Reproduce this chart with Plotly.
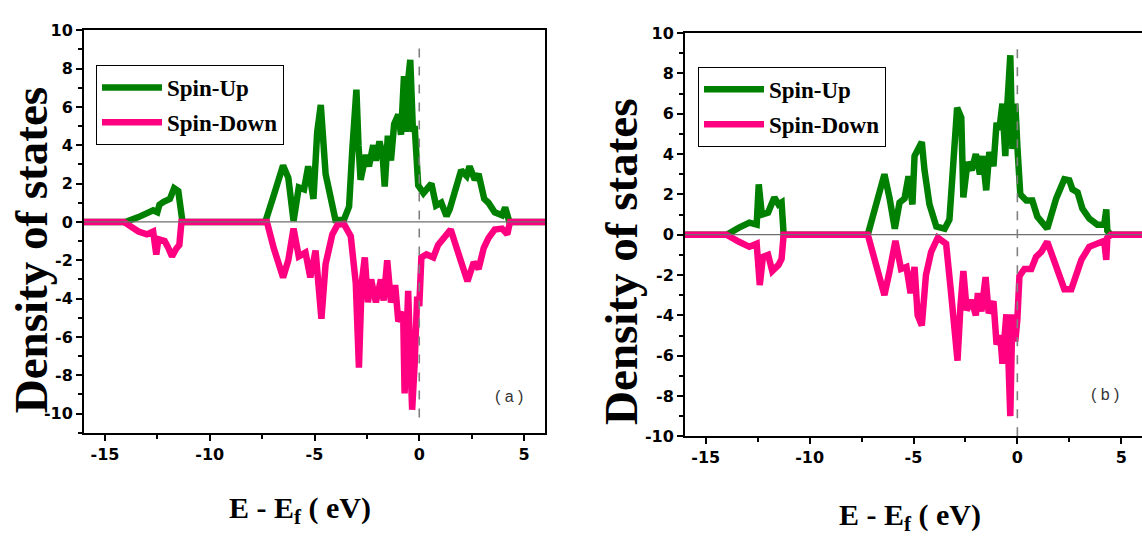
import plotly.graph_objects as go

# ---------------- data: spin-resolved density of states ----------------
# (a)
energy_up_a = [-16, -14.0, -13.4, -13.0, -12.7, -12.5, -12.4, -12.2, -11.9, -11.7, -11.5, -11.3,
               -7.35, -6.97, -6.5, -6.25, -6.0, -5.75, -5.5, -5.3, -5.05, -4.87, -4.7, -4.47, -4.2,
               -4.0, -3.6, -3.35, -3.2, -3.0, -2.9, -2.8, -2.55, -2.4, -2.2, -2.07, -1.9, -1.75,
               -1.65, -1.5, -1.35, -1.2, -1.0, -0.87, -0.73, -0.62, -0.53, -0.43, -0.3, -0.22,
               -0.05, 0.2, 0.58, 0.8, 1.05, 1.3, 1.45, 1.7, 2.0, 2.26, 2.4, 2.65, 2.83, 3.1, 3.3,
               3.6, 3.95, 4.1, 4.3, 6]
dos_up_a = [0, 0, 0.25, 0.5, 0.6, 0.5, 0.9, 1.05, 1.2, 1.75, 1.6, 0,
            0, 1.3, 2.94, 2.3, 0.05, 1.8, 1.7, 2.9, 1.2, 4.7, 6.1, 2.5, 1.0,
            0.1, 0.1, 0.8, 3.7, 6.9, 4.0, 2.2, 3.5, 2.9, 4.0, 3.2, 4.2, 3.5,
            1.85, 4.5, 3.2, 5.1, 5.6, 4.55, 7.6, 4.7, 7.4, 8.45, 4.7, 5.0,
            1.9, 1.5, 2.0, 0.85, 1.0, 0.3, 0.65, 1.6, 2.7, 2.4, 2.9, 2.2, 2.5, 1.2, 1.0,
            0.5, 0.35, 0.75, 0, 0]

energy_dn_a = [-16, -14.1, -13.4, -13.0, -12.7, -12.55, -12.45, -12.15, -12.0, -11.8, -11.6, -11.45,
               -11.35, -7.27, -6.95, -6.5, -6.25, -6.0, -5.75, -5.43, -5.2, -4.95, -4.67, -4.47,
               -4.15, -3.9, -3.6, -3.27, -3.03, -2.88, -2.75, -2.6, -2.45, -2.3, -2.07, -1.83,
               -1.7, -1.53, -1.35, -1.15, -1.0, -0.77, -0.7, -0.53, -0.43, -0.34, -0.22, -0.1,
               0.0, 0.1, 0.34, 0.67, 0.9, 1.15, 1.5, 1.78, 2.0, 2.3, 2.6, 2.83, 3.08, 3.3, 3.6,
               3.95, 4.2, 4.33, 6]
dos_dn_a = [0, 0, -0.5, -0.65, -0.5, -1.7, -0.9, -1.0, -1.3, -1.8, -1.4, -1.2,
            0, 0, -1.35, -2.9, -2.0, -0.35, -1.8, -1.6, -2.9, -1.5, -5.05, -2.2,
            -0.65, -0.15, -0.1, -0.75, -3.2, -7.6, -3.2, -1.85, -4.2, -3.0, -4.2, -3.0,
            -4.1, -2.0, -4.2, -3.3, -5.2, -4.7, -8.95, -3.6, -7.1, -9.8, -7.4, -3.9,
            -4.4, -1.85, -1.7, -1.85, -1.2, -0.85, -0.4, -1.35, -2.2, -3.1, -2.1, -2.45, -1.35, -0.85, -0.4,
            -0.35, -0.65, 0, 0]

# (b)
energy_up_b = [-16, -14.0, -13.4, -12.9, -12.55, -12.45, -12.3, -12.0, -11.7, -11.5, -11.35, -11.25,
               -7.2, -6.8, -6.4, -6.15, -5.9, -5.67, -5.43, -5.24, -5.05, -4.95, -4.6, -4.47, -4.23,
               -3.9, -3.5, -3.27, -3.03, -2.9, -2.7, -2.6, -2.4, -2.2, -2.0, -1.8, -1.67, -1.5,
               -1.35, -1.15, -1.0, -0.87, -0.72, -0.58, -0.48, -0.34, -0.24, -0.1, 0.0, 0.14,
               0.43, 0.72, 0.96, 1.44, 1.87, 2.26, 2.5, 2.65, 2.9, 3.13, 3.46, 3.85, 4.18, 4.28,
               4.33, 4.5, 6]
dos_up_b = [0, 0, 0.35, 0.6, 0.5, 2.5, 1.0, 1.1, 1.85, 1.5, 1.6, 0,
            0, 1.5, 3.0, 1.8, 0.3, 1.6, 1.8, 2.9, 1.5, 3.9, 4.6, 3.2, 1.5,
            0.4, 0.3, 0.75, 3.9, 6.3, 5.8, 1.85, 3.6, 3.2, 4.0, 3.0, 3.9, 2.2,
            4.1, 3.4, 5.55, 5.2, 6.5, 3.9, 6.5, 8.9, 4.25, 6.5, 4.4, 2.0,
            1.7, 1.7, 0.9, 0.3, 1.8, 2.75, 2.7, 2.25, 2.1, 1.3, 0.8, 0.5, 0.5, 1.25,
            0.2, 0, 0]

energy_dn_b = [-16, -14.0, -13.4, -12.9, -12.55, -12.4, -12.25, -12.0, -11.8, -11.5, -11.35, -11.25,
               -7.2, -6.9, -6.4, -6.15, -5.87, -5.6, -5.34, -5.14, -4.95, -4.8, -4.6, -4.4, -4.15,
               -3.83, -3.43, -3.2, -3.0, -2.88, -2.74, -2.6, -2.44, -2.2, -2.0, -1.9, -1.73, -1.53,
               -1.38, -1.15, -1.0, -0.82, -0.72, -0.53, -0.43, -0.34, -0.24, -0.1, 0.0, 0.1,
               0.34, 0.67, 0.9, 1.15, 1.44, 1.87, 2.26, 2.6, 2.83, 3.08, 3.46, 3.94, 4.18, 4.28,
               4.33, 4.5, 6]
dos_dn_b = [0, 0, -0.35, -0.6, -0.45, -2.5, -1.1, -1.0, -1.8, -1.5, -1.2, 0,
            0, -1.15, -3.0, -1.8, -0.3, -1.7, -1.6, -2.9, -1.6, -4.0, -4.5, -2.0, -0.85,
            -0.15, -0.45, -2.8, -5.45, -6.25, -3.55, -1.8, -3.75, -3.25, -4.0, -2.9, -3.8, -2.1,
            -3.9, -3.3, -5.45, -5.0, -6.4, -3.95, -6.25, -9.0, -3.95, -5.3, -4.2, -2.05,
            -1.7, -1.7, -1.1, -0.85, -0.35, -1.55, -2.7, -2.7, -2.05, -1.25, -0.6, -0.4, -0.3, -1.25,
            -0.15, 0, 0]

y_ticks = [-10, -8, -6, -4, -2, 0, 2, 4, 6, 8, 10]
x_ticks = [-15, -10, -5, 0, 5]
series_names = ["Spin-Up", "Spin-Down"]
panel_labels = ["( a )", "( b )"]

GREEN = "#008000"
PINK = "#FF0080"
W, H = 1142, 546
FERMI = 0.0


def tick_labels(values):
    # hyphen-minus labels
    return [str(v) for v in values]


fig = go.Figure()

panels = [
    dict(xa="x", ya="y", legend="legend",
         up=(energy_up_a, dos_up_a), dn=(energy_dn_a, dos_dn_a)),
    dict(xa="x2", ya="y2", legend="legend2",
         up=(energy_up_b, dos_up_b), dn=(energy_dn_b, dos_dn_b)),
]
for p in panels:
    fig.add_trace(go.Scatter(x=p["up"][0], y=p["up"][1], mode="lines", name=series_names[0],
                             line=dict(color=GREEN, width=6.5), xaxis=p["xa"], yaxis=p["ya"],
                             legend=p["legend"], legendgroup="up"))
    fig.add_trace(go.Scatter(x=p["dn"][0], y=p["dn"][1], mode="lines", name=series_names[1],
                             line=dict(color=PINK, width=6.5), xaxis=p["xa"], yaxis=p["ya"],
                             legend=p["legend"], legendgroup="dn"))

tick_font = dict(family="DejaVu Sans", size=16, color="black", weight="bold")
minor_x = dict(dtick=2.5, tick0=0, ticks="outside", ticklen=4, tickwidth=2, tickcolor="black")
minor_y = dict(dtick=1, tick0=0, ticks="outside", ticklen=4, tickwidth=2, tickcolor="black")
axis_common = dict(
    showline=True, linecolor="black", linewidth=2,
    ticks="outside", ticklen=6, tickwidth=2, tickcolor="black",
    tickfont=tick_font, showgrid=False, zeroline=False,
)
legend_font = dict(family="Liberation Serif", size=23, color="black", weight="bold")

fig.update_layout(
    width=W, height=H,
    margin=dict(l=0, r=0, t=0, b=0),
    paper_bgcolor="white", plot_bgcolor="white",
    showlegend=True,
    xaxis=dict(domain=[84 / W, 545 / W], range=[-16, 6], tickvals=x_ticks,
               ticktext=tick_labels(x_ticks), anchor="y", mirror=True, minor=minor_x,
               **axis_common),
    yaxis=dict(domain=[1 - 439 / H, 1 - 22 / H], range=[-11, 10], tickvals=y_ticks,
               ticktext=tick_labels(y_ticks), anchor="x", mirror=True, minor=minor_y,
               **axis_common),
    xaxis2=dict(domain=[685 / W, 1.0], range=[-16, 6], tickvals=x_ticks,
                ticktext=tick_labels(x_ticks), anchor="y2", mirror=True, minor=minor_x,
                **axis_common),
    yaxis2=dict(domain=[1 - 442.7 / H, 1 - 25 / H], range=[-10, 10], tickvals=y_ticks,
                ticktext=tick_labels(y_ticks), anchor="x2", mirror=False, minor=minor_y,
                **axis_common),
    legend=dict(x=96 / W, y=1 - 58 / H, xanchor="left", yanchor="top",
                bgcolor="white", bordercolor="black", borderwidth=1, itemwidth=60,
                font=legend_font, tracegroupgap=2),
    legend2=dict(x=698 / W, y=1 - 60 / H, xanchor="left", yanchor="top",
                 bgcolor="white", bordercolor="black", borderwidth=1, itemwidth=60,
                 font=legend_font, tracegroupgap=2),
)

# zero line and Fermi level marker, drawn above the curves
for xa, ya, (y0, y1) in [("x", "y", (-10.2, 9.2)), ("x2", "y2", (-10.0, 9.3))]:
    fig.add_shape(type="line", xref=f"{xa} domain", yref=ya, x0=0, x1=1, y0=0, y1=0,
                  line=dict(color="#6e6e6e", width=1.2), layer="above")
    fig.add_shape(type="line", xref=xa, yref=ya, x0=FERMI, x1=FERMI, y0=y0, y1=y1,
                  line=dict(color="#808080", width=1.6, dash="dash"), layer="above")

title_font = dict(family="Liberation Serif", size=47, color="black", weight="bold")
xtitle_font = dict(family="Liberation Serif", size=30, color="black", weight="bold")
xtitle = "E - E<sub>f</sub> ( eV)"

# axis titles
for x_px, y_px in [(31, 250), (621, 262)]:
    fig.add_annotation(text="Density of states", xref="paper", yref="paper",
                       x=x_px / W, y=1 - y_px / H, textangle=-90, showarrow=False,
                       font=title_font, xanchor="center", yanchor="middle")
for x_px, y_px in [(300, 519), (910, 526)]:
    fig.add_annotation(text=xtitle, xref="paper", yref="paper",
                       x=x_px / W, y=1 - y_px / H, showarrow=False,
                       font=xtitle_font, xanchor="center", yanchor="middle")

# panel labels
for (xa, ya), label, (lx, ly) in zip([("x", "y"), ("x2", "y2")], panel_labels,
                                     [(4.3, -9.1), (4.2, -7.95)]):
    fig.add_annotation(text=label, xref=xa, yref=ya, x=lx, y=ly, showarrow=False,
                       font=dict(family="Liberation Sans", size=16, color="#333333"))

fig.write_html("out.html")
